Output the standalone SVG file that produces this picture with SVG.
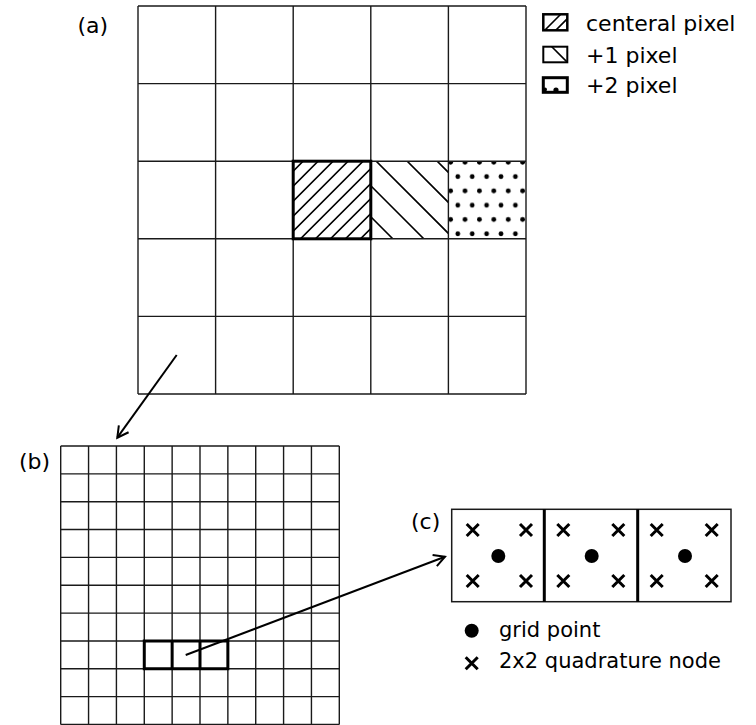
<svg xmlns="http://www.w3.org/2000/svg" width="756" height="725" viewBox="0 0 756 725">
<style>
  .grid { fill: none; stroke: #1a1a1a; stroke-width: 1.4; }
  .thick { fill: none; stroke: #000; stroke-width: 3; }
  .lbl { font-family: "DejaVu Sans", "Liberation Sans", sans-serif; font-size: 21px; fill: #000; }
  .big { font-size: 22px; }
  .hatch { stroke: #000; stroke-width: 1.6; fill: none; }
  .cross { stroke: #000; stroke-width: 3; fill: none; }
  .arrow { stroke: #000; stroke-width: 2; fill: none; }
</style>
<defs>
  <pattern id="dots" patternUnits="userSpaceOnUse" x="457.8" y="155.15" width="14.4" height="28.6">
    <circle cx="7.2" cy="7.15" r="2.4" fill="#000"/>
    <circle cx="0" cy="21.45" r="2.4" fill="#000"/>
    <circle cx="14.4" cy="21.45" r="2.4" fill="#000"/>
  </pattern>
  <marker id="head" markerUnits="userSpaceOnUse" markerWidth="20" markerHeight="20" refX="0" refY="0" viewBox="-14 -10 20 20" orient="auto">
    <path d="M-11,-6 L0,0 L-11,6" fill="none" stroke="#000" stroke-width="2"/>
  </marker>
  <clipPath id="cc"><rect x="293.2" y="161.2" width="77.6" height="77.6"/></clipPath>
  <clipPath id="c1"><rect x="370.8" y="161.2" width="77.6" height="77.6"/></clipPath>
  <clipPath id="ic1"><rect x="543.3" y="14.3" width="24" height="16"/></clipPath>
  <clipPath id="ic2"><rect x="543.3" y="46.7" width="24" height="15.6"/></clipPath>
</defs>

<g id="panel-a">
  <text class="lbl big" x="77.5" y="32.5">(a)</text>
  <g clip-path="url(#cc)">
    <path class="hatch" d="M293.2,171.1 L303.1,161.2 M293.2,186.1 L318.1,161.2 M293.2,201.1 L333.1,161.2 M293.2,216.1 L348.1,161.2 M293.2,231.1 L363.1,161.2 M290,249.3 L378.1,161.2 M305,249.3 L393.1,161.2 M320,249.3 L408.1,161.2 M335,249.3 L423.1,161.2 M350,249.3 L438.1,161.2 M365,249.3 L453.1,161.2"/>
  </g>
  <g clip-path="url(#c1)">
    <path class="hatch" d="M370.8,216.8 L392.8,238.8 M370.8,185.8 L423.8,238.8 M376.2,161.2 L454,239 M407.2,161.2 L454,208 M437.2,161.2 L454,178"/>
  </g>
  <rect x="448.4" y="161.2" width="77.6" height="77.6" fill="url(#dots)"/>
  <path class="grid" d="M138,6V394 M215.6,6V394 M293.2,6V394 M370.8,6V394 M448.4,6V394 M526,6V394 M138,6H526 M138,83.6H526 M138,161.2H526 M138,238.8H526 M138,316.4H526 M138,394H526"/>
  <rect class="thick" x="293.2" y="161.2" width="77.6" height="77.6"/>
</g>

<g id="legend-a">
  <g id="legend-central">
    <g clip-path="url(#ic1)">
      <path class="hatch" d="M544,31 L561,14 M555,31 L572,14"/>
    </g>
    <rect x="543.3" y="14.3" width="24" height="16" fill="none" stroke="#000" stroke-width="2.5"/>
    <text class="lbl big" x="586" y="30.5">centeral pixel</text>
  </g>
  <g id="legend-plus1">
    <g clip-path="url(#ic2)">
      <path class="hatch" d="M551,46 L568,63"/>
    </g>
    <rect x="543.3" y="46.7" width="24" height="15.6" fill="none" stroke="#000" stroke-width="2"/>
    <text class="lbl big" x="586" y="62.5">+1 pixel</text>
  </g>
  <g id="legend-plus2">
    <rect x="543.3" y="77.7" width="24" height="14.6" fill="none" stroke="#000" stroke-width="3"/>
    <circle cx="556" cy="90" r="2.6" fill="#000"/>
    <circle cx="545" cy="89.5" r="2" fill="#000"/>
    <text class="lbl big" x="586" y="93">+2 pixel</text>
  </g>
</g>

<g id="panel-b">
  <text class="lbl big" x="19" y="469">(b)</text>
  <path class="grid" d="M60.7,446V724.5 M88.56,446V724.5 M116.42,446V724.5 M144.28,446V724.5 M172.14,446V724.5 M200,446V724.5 M227.86,446V724.5 M255.72,446V724.5 M283.58,446V724.5 M311.44,446V724.5 M339.3,446V724.5 M60.7,446H339.3 M60.7,473.85H339.3 M60.7,501.7H339.3 M60.7,529.55H339.3 M60.7,557.4H339.3 M60.7,585.25H339.3 M60.7,613.1H339.3 M60.7,640.95H339.3 M60.7,668.8H339.3 M60.7,696.65H339.3 M60.7,724.5H339.3"/>
  <path class="thick" d="M144.28,640.95H227.86V668.8H144.28Z M172.14,640.95V668.8 M200,640.95V668.8"/>
</g>

<g id="panel-c">
  <text class="lbl big" x="411" y="529">(c)</text>
  <rect x="451.7" y="509.3" width="279.3" height="92.4" fill="none" stroke="#1a1a1a" stroke-width="1.5"/>
  <path d="M544.3,509.3V601.7 M637.7,509.3V601.7" stroke="#000" stroke-width="3"/>
  <g fill="#000">
    <circle cx="498.3" cy="556" r="7"/>
    <circle cx="591.7" cy="556" r="7"/>
    <circle cx="685" cy="556" r="7"/>
  </g>
  <path class="cross" d="M466.7,524l12,12m0,-12l-12,12 M520,524l12,12m0,-12l-12,12 M466.7,575l12,12m0,-12l-12,12 M520,575l12,12m0,-12l-12,12
    M557.3,524l12,12m0,-12l-12,12 M612.3,524l12,12m0,-12l-12,12 M557.3,575l12,12m0,-12l-12,12 M612.3,575l12,12m0,-12l-12,12
    M650.7,524l12,12m0,-12l-12,12 M705.7,524l12,12m0,-12l-12,12 M650.7,575l12,12m0,-12l-12,12 M705.7,575l12,12m0,-12l-12,12"/>
</g>

<g id="legend-c">
  <g id="legend-grid-point">
    <circle cx="471.7" cy="630.7" r="7" fill="#000"/>
    <text class="lbl" x="499" y="637">grid point</text>
  </g>
  <g id="legend-quadrature">
    <path class="cross" d="M465.7,657.3l12,12m0,-12l-12,12"/>
    <text class="lbl" x="499" y="668">2x2 quadrature node</text>
  </g>
</g>

<g id="connectors">
  <path class="arrow" d="M176.7,355 L117.3,437.7" marker-end="url(#head)"/>
  <path class="arrow" d="M185.7,655 L445,556.7" marker-end="url(#head)"/>
</g>
</svg>
